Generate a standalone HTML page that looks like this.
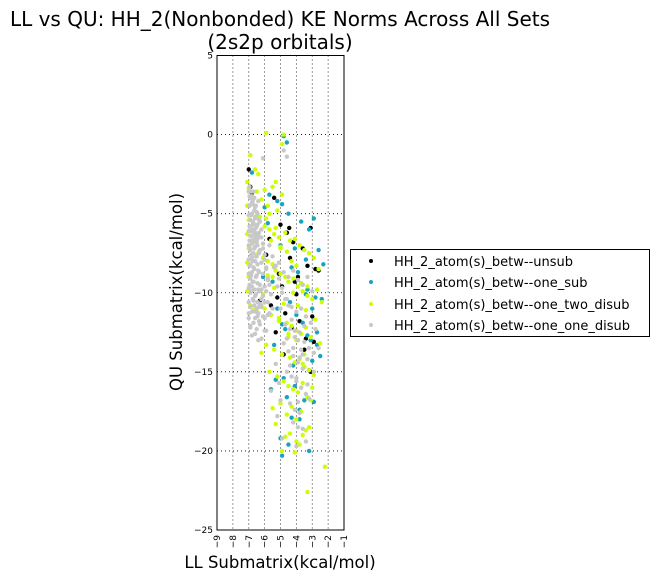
<!DOCTYPE html>
<html><head><meta charset="utf-8"><style>
body{margin:0;background:#fff;width:660px;height:581px;overflow:hidden;font-family:"DejaVu Sans",sans-serif}
</style></head><body>
<svg id="chart" width="660" height="581" xmlns="http://www.w3.org/2000/svg" font-family="DejaVu Sans, sans-serif">
<rect width="660" height="581" fill="#fff"/>
<text x="280" y="26" font-size="20" text-anchor="middle">LL vs QU: HH_2(Nonbonded) KE Norms Across All Sets</text>
<text x="280" y="49" font-size="20" text-anchor="middle">(2s2p orbitals)</text>
<g id="grid"></g>
<g id="marks"></g>
<rect x="217" y="55.5" width="127" height="474.5" fill="none" stroke="#000" stroke-width="1"/>
<g id="ticks" font-size="9"></g>
<text x="280" y="568" font-size="16.5" text-anchor="middle">LL Submatrix(kcal/mol)</text>
<text transform="translate(182,292) rotate(-90)" font-size="16.5" text-anchor="middle">QU Submatrix(kcal/mol)</text>
<g>
<rect x="350.5" y="249.5" width="299" height="87" fill="#fff" stroke="#000"/>
<circle cx="371" cy="261" r="2" fill="#000"/><text x="394" y="266" font-size="13">HH_2_atom(s)_betw--unsub</text>
<circle cx="371" cy="282" r="2" fill="#17a3c1"/><text x="394" y="287" font-size="13">HH_2_atom(s)_betw--one_sub</text>
<circle cx="371" cy="304" r="2" fill="#ccff00"/><text x="394" y="309" font-size="13">HH_2_atom(s)_betw--one_two_disub</text>
<circle cx="371" cy="325" r="2" fill="#c8c8c8"/><text x="394" y="330" font-size="13">HH_2_atom(s)_betw--one_one_disub</text>
</g>
</svg>
<script>
const xTicks=[-9,-8,-7,-6,-5,-4,-3,-2,-1];
const yTicks=[5,0,-5,-10,-15,-20,-25];
const unsubX=[-7,-5.4,-5.0,-4.45,-3.1,-4.6,-6.9,-6.8,-5.7,-4.2,-3.6,-2.8,-5.1,-4.9,-4.0,-3.3,-2.6,-5.6,-4.7,-3.8,-3.0,-4.3,-5.3,-3.5,-2.9,-4.8,-3.2,-3.1,-4.1,-6.3,-5.9,-3.4,-4.4,-5.2,-3.9];
const unsubY=[-2.2,-4.0,-5.7,-5.9,-5.9,-6.2,-3.3,-3.7,-6.6,-6.8,-7.2,-8.5,-8.8,-9.6,-10.1,-8.3,-8.6,-10.8,-11.3,-11.8,-11.5,-12.2,-12.5,-13.6,-13.1,-13.9,-14.9,-15.0,-9.3,-10.5,-7.6,-12.9,-7.8,-10.3,-9.0];
const oneSubX=[-4.8,-4.6,-6.8,-5.7,-5.2,-4.9,-4.5,-3.7,-3.2,-2.9,-2.6,-2.3,-3.4,-4.1,-5.0,-5.5,-3.9,-3.3,-2.8,-4.4,-5.2,-4.0,-3.6,-2.7,-3.1,-4.7,-5.4,-3.0,-2.5,-4.2,-4.8,-5.6,-3.5,-3.8,-4.3,-2.9,-5.0,-4.5,-3.2,-4.9,-3.8,-4.1,-2.7,-5.3,-4.6,-3.4,-6.1,-6.5,-5.8,-4.3,-3.7,-3.0,-4.9,-2.4,-6.0,-3.3];
const oneSubY=[-0.1,-0.5,-2.4,-3.8,-4.2,-4.4,-5.0,-5.5,-6.0,-5.3,-7.3,-8.2,-7.9,-7.2,-7.0,-9.3,-8.7,-9.8,-10.3,-10.6,-11.0,-11.4,-11.9,-12.5,-13.0,-12.3,-13.3,-14.3,-14.0,-14.6,-15.4,-16.1,-16.8,-17.4,-17.9,-16.9,-19.2,-19.6,-20.0,-20.3,-18.0,-15.9,-13.3,-15.5,-16.6,-10.1,-9.0,-6.3,-5.6,-8.4,-9.4,-11.0,-12.0,-10.4,-4.6,-12.7];
const twoX=[-5.9,-4.8,-4.9,-6.9,-6.6,-6.4,-5.3,-7.1,-7.0,-6.8,-6.5,-6.2,-5.8,-5.5,-5.2,-4.9,-6.6,-6.3,-6.0,-5.7,-5.4,-5.1,-4.7,-4.4,-4.1,-3.8,-3.5,-3.2,-2.9,-2.6,-6.4,-6.1,-5.8,-5.5,-5.3,-5.0,-4.7,-4.5,-4.2,-3.9,-3.6,-3.3,-3.0,-2.7,-2.4,-6.9,-6.5,-6.0,-5.6,-5.1,-4.6,-4.3,-4.0,-3.7,-3.4,-3.1,-2.8,-2.5,-5.9,-5.4,-4.9,-4.4,-4.1,-3.8,-3.5,-3.2,-2.9,-6.2,-5.7,-5.2,-4.8,-4.5,-4.2,-3.9,-3.6,-3.3,-3.0,-5.5,-5.0,-4.6,-4.3,-4.0,-3.7,-3.4,-3.1,-5.3,-4.7,-4.4,-4.0,-3.6,-3.2,-4.9,-4.1,-3.8,-3.3,-2.2,-3.5,-4.5,-6.6,-5.8,-6.1,-6.7,-5.4,-5.0,-7.1,-7.0,-7.1,-7.0,-7.1,-7.0,-7.1,-6.9,-6.3,-6.1,-5.9,-5.6,-5.3,-5.0,-4.6,-4.3,-4.0,-3.7,-3.4,-4.8,-4.2,-3.9,-3.3,-5.5,-5.1,-4.5,-6.0,-5.7,-4.0,-3.6];
const twoY=[0.1,0.0,-0.6,-1.3,-2.2,-2.5,-3.0,-3.0,-3.4,-3.9,-3.6,-4.1,-4.5,-3.3,-4.8,-3.8,-5.2,-5.5,-5.8,-6.0,-6.3,-6.5,-6.2,-6.7,-6.6,-7.0,-7.3,-7.5,-7.8,-8.5,-7.5,-7.8,-8.0,-8.2,-8.6,-8.8,-9.0,-9.3,-9.1,-9.6,-9.9,-10.2,-10.4,-9.8,-10.6,-10.9,-11.2,-11.0,-11.4,-11.6,-11.9,-12.1,-12.4,-12.6,-12.2,-12.8,-11.7,-13.2,-13.3,-13.6,-13.9,-14.1,-14.4,-14.2,-14.7,-14.9,-15.2,-13.8,-15.0,-15.3,-15.6,-15.9,-16.1,-16.3,-15.7,-16.6,-16.0,-17.3,-17.0,-17.7,-17.2,-18.0,-17.5,-18.7,-16.8,-18.3,-19.1,-18.9,-19.4,-19.0,-18.5,-20.0,-20.1,-19.6,-22.6,-21.0,-13.9,-12.8,-6.8,-8.9,-10.1,-11.1,-9.7,-7.2,-4.5,-5.4,-6.3,-7.2,-8.1,-9.0,-9.9,-10.8,-5.2,-6.9,-5.3,-6.7,-5.9,-7.1,-7.4,-8.0,-8.3,-9.4,-11.1,-10.7,-10.0,-10.8,-9.6,-9.0,-11.8,-12.6,-3.5,-5.0,-13.0,-14.5];
const grayX=[-6.1,-4.8,-4.6,-7.0,-6.9,-6.8,-6.7,-6.6,-6.5,-6.4,-7.0,-6.9,-6.8,-6.7,-6.6,-6.5,-6.3,-7.0,-6.9,-6.8,-6.7,-6.6,-6.5,-6.4,-6.2,-7.0,-6.9,-6.8,-6.7,-6.6,-6.5,-6.3,-6.1,-7.0,-6.9,-6.8,-6.7,-6.6,-6.4,-6.2,-6.0,-7.0,-6.9,-6.8,-6.7,-6.5,-6.3,-6.1,-5.9,-7.0,-6.9,-6.8,-6.6,-6.4,-6.2,-6.0,-5.8,-7.0,-6.9,-6.7,-6.5,-6.3,-6.1,-5.9,-5.7,-7.0,-6.8,-6.6,-6.4,-6.2,-6.0,-5.8,-5.6,-6.9,-6.7,-6.5,-6.3,-6.1,-5.9,-5.7,-5.5,-6.8,-6.6,-6.4,-6.2,-6.0,-5.4,-5.1,-4.8,-4.5,-4.2,-3.9,-3.6,-3.3,-3.0,-5.2,-4.9,-4.6,-4.3,-4.0,-3.7,-3.4,-3.1,-2.8,-5.0,-4.7,-4.4,-4.1,-3.8,-3.5,-3.2,-2.9,-4.8,-4.5,-4.2,-3.9,-3.6,-3.3,-5.3,-4.6,-4.3,-4.0,-3.7,-3.4,-5.6,-5.0,-4.4,-4.1,-3.8,-3.2,-5.2,-4.2,-3.9,-4.9,-4.0,-3.6,-3.4,-5.1,-2.9,-3.9,-6.2,-5.8,-2.6,-6.9,-7.0,
-6.95,-6.85,-6.75,-6.65,-6.55,-6.45,-6.35,-6.95,-6.85,-6.75,-6.65,-6.55,-6.45,-6.35,-6.95,-6.85,-6.75,-6.65,-6.55,-6.45,-6.35,-6.95,-6.85,-6.75,-6.65,-6.55,-6.45,-6.35,-6.95,-6.85,-6.75,-6.65,-6.55,-6.45,-6.35,-6.95,-6.85,-6.75,-6.65,-6.55,-6.45,-6.35,-6.95,-6.85,-6.75,-6.65,-6.55,-6.45,-6.35,-6.95,-6.85,-6.75,-6.65,-6.55,-6.45,-6.35,-6.2,-6.1,-6.0,-5.9,-5.8,-6.2,-6.0,-5.7,-5.5,-5.3,-5.1,-4.9,-4.7,-4.5,-4.3,-4.1,-3.9,-3.7,-3.5,-4.4,-4.0,-3.6,-3.3,-4.6,-4.2,-3.8];
const grayY=[-1.5,-1.0,-1.4,-3.6,-4.0,-4.3,-3.6,-4.6,-4.9,-4.2,-5.1,-5.4,-5.0,-5.6,-5.3,-5.8,-5.5,-6.1,-6.4,-6.0,-6.6,-6.2,-6.8,-6.4,-6.0,-7.0,-7.3,-6.9,-7.5,-7.1,-7.7,-7.3,-6.9,-7.9,-8.2,-7.8,-8.4,-8.0,-8.6,-8.1,-7.6,-8.8,-9.1,-8.7,-9.3,-8.9,-9.5,-8.8,-8.4,-9.7,-10.0,-9.6,-10.2,-9.8,-10.4,-9.6,-9.1,-10.6,-10.9,-10.5,-11.0,-10.7,-10.2,-9.9,-9.5,-11.3,-11.2,-11.6,-11.3,-10.9,-11.6,-10.6,-10.1,-12.1,-11.9,-12.3,-12.0,-11.5,-12.4,-11.3,-11.0,-12.7,-12.6,-13.0,-12.9,-12.4,-8.4,-8.1,-8.7,-9.0,-8.6,-9.2,-9.5,-9.0,-9.9,-9.6,-10.0,-10.4,-10.9,-11.2,-11.0,-11.5,-11.9,-12.3,-11.0,-12.0,-12.3,-12.8,-12.5,-13.1,-13.5,-13.8,-13.2,-13.7,-14.0,-14.4,-14.8,-14.2,-14.5,-15.0,-15.3,-15.6,-16.0,-16.4,-16.2,-16.8,-17.0,-17.4,-17.6,-16.7,-17.8,-18.2,-18.5,-19.2,-19.7,-18.6,-19.4,-15.7,-15.0,-16.9,-10.8,-11.4,-13.5,-12.2,-11.6,
-3.3,-3.9,-4.4,-4.8,-5.2,-5.7,-6.2,-4.5,-5.1,-5.5,-6.0,-6.5,-7.0,-7.5,-5.8,-6.4,-6.8,-7.2,-7.7,-8.2,-8.7,-7.1,-7.6,-8.0,-8.5,-9.0,-9.4,-9.9,-8.3,-8.9,-9.3,-9.8,-10.1,-10.6,-10.9,-9.5,-9.9,-10.4,-10.8,-11.2,-11.5,-11.8,-3.9,-3.6,-4.2,-4.0,-4.5,-5.0,-5.4,-6.7,-6.1,-5.7,-6.3,-5.9,-6.6,-7.4,-6.5,-7.2,-7.9,-8.5,-9.2,-9.8,-10.6,-7.0,-7.7,-8.3,-9.1,-9.7,-10.4,-10.8,-11.7,-12.4,-13.0,-13.6,-12.1,-14.6,-15.4,-13.9,-15.8,-12.9,-13.5,-14.1];
const series=[[unsubX,unsubY,'#000000','unsub'],[oneSubX,oneSubY,'#17a3c1','one-sub'],[twoX,twoY,'#ccff00','one-two-disub'],[grayX,grayY,'#c8c8c8','one-one-disub']];
const NS='http://www.w3.org/2000/svg';
const X0=217,X1=344,Y0=530,Y1=55.5;
function sx(v){return X0+(v-(-9))/8*(X1-X0);}
function sy(v){return Y0-(v-(-25))/30*(Y0-Y1);}
const grid=document.getElementById('grid'),ticks=document.getElementById('ticks'),marks=document.getElementById('marks');
xTicks.forEach(t=>{
  const x=sx(t);
  if(t>-9&&t<-1){const l=document.createElementNS(NS,'line');
  
  
  l.setAttribute('x1',x);l.setAttribute('x2',x);l.setAttribute('y1',Y1);l.setAttribute('y2',Y0);
  l.setAttribute('stroke','#000');l.setAttribute('stroke-dasharray','1,3');l.setAttribute('stroke-width','0.8');grid.appendChild(l);}
  const tx=document.createElementNS(NS,'text');
  
  
  tx.setAttribute('transform','translate('+(x+3)+',535) rotate(-90)');
  tx.setAttribute('text-anchor','end');tx.textContent=String(t).replace('-','\u2212');ticks.appendChild(tx);
});
yTicks.forEach(t=>{
  const y=sy(t);
  if(t<5&&t>-25){const l=document.createElementNS(NS,'line');
  
  
  l.setAttribute('x1',X0);l.setAttribute('x2',X1);l.setAttribute('y1',y);l.setAttribute('y2',y);
  l.setAttribute('stroke','#000');l.setAttribute('stroke-dasharray','1,3');l.setAttribute('stroke-width','0.8');grid.appendChild(l);}
  const tx=document.createElementNS(NS,'text');
  
  
  tx.setAttribute('x',213);tx.setAttribute('y',y+3);tx.setAttribute('text-anchor','end');
  tx.textContent=String(t).replace('-','\u2212');ticks.appendChild(tx);
});
series.forEach(s=>{
  const [xs,ys,c,n]=s;
  xs.forEach((v,i)=>{
    const p=document.createElementNS(NS,'circle');
    
    
    p.setAttribute('cx',sx(v));p.setAttribute('cy',sy(ys[i]));p.setAttribute('r',2.2);p.setAttribute('fill',c);
    marks.appendChild(p);
  });
});
</script>
</body></html>
